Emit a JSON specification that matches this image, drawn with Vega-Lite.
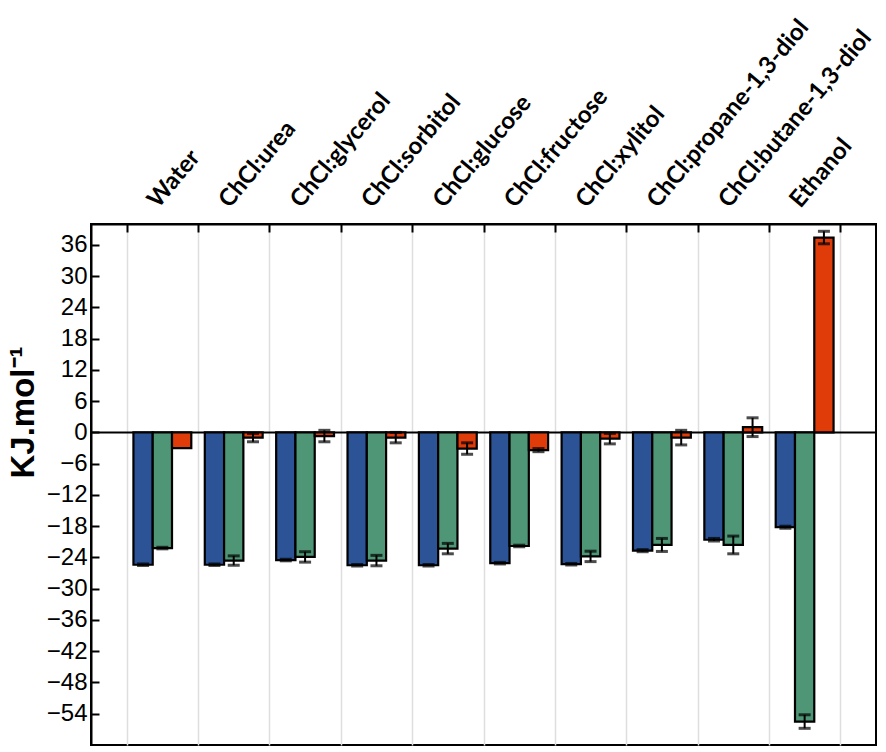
{
  "$schema": "https://vega.github.io/schema/vega-lite/v6.json",
  "width": 785,
  "height": 521,
  "autosize": {"type": "none"},
  "padding": {"left": 91, "top": 224, "right": 10, "bottom": 7},
  "background": "white",
  "config": {
    "view": {"stroke": "black", "strokeWidth": 2},
    "axisY": {
      "titleFont": "Liberation Sans",
      "titleFontSize": 33,
      "titleFontWeight": "bold",
      "titleColor": "black",
      "titlePadding": 6,
      "titleY": 188,
      "domainColor": "black",
      "domainWidth": 2,
      "tickSize": -8,
      "tickWidth": 2,
      "tickColor": "black",
      "labelFont": "Liberation Sans",
      "labelFontSize": 24,
      "labelColor": "black",
      "labelPadding": 12,
      "grid": true,
      "gridWidth": 2,
      "gridColor": {"condition": {"test": "datum.value === 0", "value": "black"}, "value": "transparent"}
    }
  },
  "data": {
    "values": [
      {"cat": "Water", "s": "A", "v": -25.4, "lo": -25.55, "hi": -25.25},
      {"cat": "Water", "s": "B", "v": -22.2, "lo": -22.35, "hi": -22.05},
      {"cat": "Water", "s": "C", "v": -3.0, "lo": null, "hi": null},
      {"cat": "ChCl:urea", "s": "A", "v": -25.4, "lo": -25.55, "hi": -25.25},
      {"cat": "ChCl:urea", "s": "B", "v": -24.6, "lo": -25.5, "hi": -23.7},
      {"cat": "ChCl:urea", "s": "C", "v": -1.0, "lo": -1.8, "hi": -0.2},
      {"cat": "ChCl:glycerol", "s": "A", "v": -24.5, "lo": -24.65, "hi": -24.35},
      {"cat": "ChCl:glycerol", "s": "B", "v": -23.9, "lo": -24.9, "hi": -22.9},
      {"cat": "ChCl:glycerol", "s": "C", "v": -0.7, "lo": -1.8, "hi": 0.4},
      {"cat": "ChCl:sorbitol", "s": "A", "v": -25.5, "lo": -25.65, "hi": -25.35},
      {"cat": "ChCl:sorbitol", "s": "B", "v": -24.6, "lo": -25.6, "hi": -23.6},
      {"cat": "ChCl:sorbitol", "s": "C", "v": -1.0, "lo": -2.0, "hi": 0.0},
      {"cat": "ChCl:glucose", "s": "A", "v": -25.5, "lo": -25.65, "hi": -25.35},
      {"cat": "ChCl:glucose", "s": "B", "v": -22.3, "lo": -23.3, "hi": -21.3},
      {"cat": "ChCl:glucose", "s": "C", "v": -3.1, "lo": -4.2, "hi": -2.0},
      {"cat": "ChCl:fructose", "s": "A", "v": -25.1, "lo": -25.25, "hi": -24.95},
      {"cat": "ChCl:fructose", "s": "B", "v": -21.8, "lo": -21.95, "hi": -21.65},
      {"cat": "ChCl:fructose", "s": "C", "v": -3.4, "lo": -3.7, "hi": -3.1},
      {"cat": "ChCl:xylitol", "s": "A", "v": -25.3, "lo": -25.45, "hi": -25.15},
      {"cat": "ChCl:xylitol", "s": "B", "v": -23.8, "lo": -24.8, "hi": -22.8},
      {"cat": "ChCl:xylitol", "s": "C", "v": -1.2, "lo": -2.2, "hi": -0.2},
      {"cat": "ChCl:propane-1,3-diol", "s": "A", "v": -22.7, "lo": -22.9, "hi": -22.5},
      {"cat": "ChCl:propane-1,3-diol", "s": "B", "v": -21.6, "lo": -22.85, "hi": -20.35},
      {"cat": "ChCl:propane-1,3-diol", "s": "C", "v": -1.0, "lo": -2.4, "hi": 0.4},
      {"cat": "ChCl:butane-1,3-diol", "s": "A", "v": -20.6, "lo": -20.85, "hi": -20.35},
      {"cat": "ChCl:butane-1,3-diol", "s": "B", "v": -21.6, "lo": -23.3, "hi": -19.9},
      {"cat": "ChCl:butane-1,3-diol", "s": "C", "v": 1.0, "lo": -0.8, "hi": 2.8},
      {"cat": "Ethanol", "s": "A", "v": -18.2, "lo": -18.4, "hi": -18.0},
      {"cat": "Ethanol", "s": "B", "v": -55.5, "lo": -56.8, "hi": -54.2},
      {"cat": "Ethanol", "s": "C", "v": 37.4, "lo": 36.2, "hi": 38.6}
    ]
  },
  "encoding": {
    "x": {
      "field": "cat",
      "type": "nominal",
      "sort": null,
      "scale": {"paddingInner": 0, "paddingOuter": 0.5},
      "axis": {
        "orient": "top",
        "title": null,
        "grid": true,
        "gridColor": "#dedede",
        "gridWidth": 1.5,
        "tickBand": "extent",
        "tickSize": -8,
        "tickWidth": 2,
        "tickColor": "black",
        "domainColor": "black",
        "domainWidth": 2,
        "labelAngle": -50,
        "labelAlign": "left",
        "labelBaseline": "middle",
        "labelFont": "Lato",
        "labelFontWeight": "bold",
        "labelFontSize": 24,
        "labelColor": "black",
        "labelPadding": 28,
        "labelOffset": -10,
        "labelLimit": 500
      }
    },
    "xOffset": {
      "field": "s",
      "type": "nominal",
      "scale": {"paddingInner": 0, "paddingOuter": 0.35}
    }
  },
  "layer": [
    {
      "mark": {"type": "bar", "stroke": "black", "strokeWidth": 2.2},
      "encoding": {
        "y": {
          "field": "v",
          "type": "quantitative",
          "title": "KJ.mol⁻¹",
          "scale": {"domain": [-60, 40], "nice": false, "zero": false},
          "axis": {"values": [-54, -48, -42, -36, -30, -24, -18, -12, -6, 0, 6, 12, 18, 24, 30, 36]}
        },
        "color": {
          "field": "s",
          "type": "nominal",
          "scale": {"domain": ["A", "B", "C"], "range": ["#2B5396", "#4E9676", "#E03C0A"]},
          "legend": null
        }
      }
    },
    {
      "mark": {"type": "rule", "color": "black", "strokeWidth": 2},
      "encoding": {
        "y": {"field": "lo", "type": "quantitative", "title": "KJ.mol⁻¹", "axis": {"values": [-54, -48, -42, -36, -30, -24, -18, -12, -6, 0, 6, 12, 18, 24, 30, 36]}},
        "y2": {"field": "hi"}
      }
    },
    {
      "mark": {"type": "tick", "color": "black", "thickness": 3, "size": 12},
      "encoding": {
        "y": {"field": "lo", "type": "quantitative", "title": "KJ.mol⁻¹", "axis": {"values": [-54, -48, -42, -36, -30, -24, -18, -12, -6, 0, 6, 12, 18, 24, 30, 36]}}
      }
    },
    {
      "mark": {"type": "tick", "color": "black", "thickness": 3, "size": 12},
      "encoding": {
        "y": {"field": "hi", "type": "quantitative", "title": "KJ.mol⁻¹", "axis": {"values": [-54, -48, -42, -36, -30, -24, -18, -12, -6, 0, 6, 12, 18, 24, 30, 36]}}
      }
    }
  ]
}
